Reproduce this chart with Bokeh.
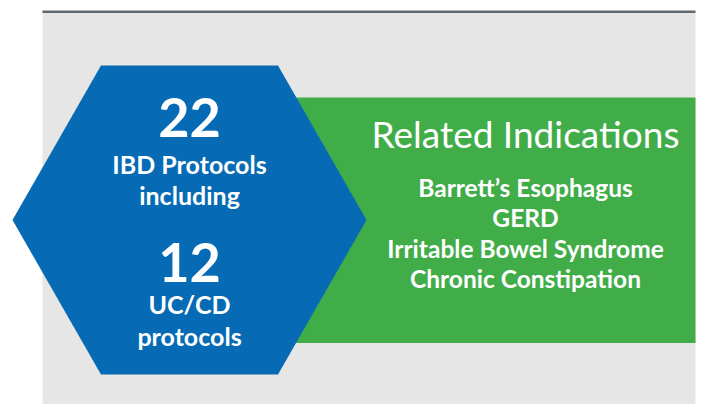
from bokeh.plotting import figure
from bokeh.models import Range1d
from bokeh.core.properties import value
from bokeh.embed import file_html
from bokeh.resources import INLINE

# ---- data ----
total_protocols = 22
total_label = ["IBD Protocols", "including"]
sub_protocols = 12
sub_label = ["UC/CD", "protocols"]
related_title = "Related Indications"
related_items = ["Barrett\u2019s Esophagus", "GERD", "Irritable Bowel Syndrome", "Chronic Constipation"]

# ---- style ----
BLUE = "#066bb4"
GREEN = "#41ad49"
GRAY = "#e5e6e5"
LINE = "#5e6972"
FONT = "Lato"

W, H = 703, 404
p = figure(width=W, height=H, output_backend="svg", toolbar_location=None,
           x_range=Range1d(0, W), y_range=Range1d(H, 0),
           min_border=0, outline_line_color=None, background_fill_color="white",
           border_fill_color="white")
p.axis.visible = False
p.grid.visible = False

# gray panel and top rule
p.quad(left=[42], right=[695], top=[12], bottom=[420], fill_color=GRAY, line_color=None)
p.quad(left=[42], right=[695], top=[10], bottom=[12.5], fill_color=LINE, line_color=None)

# green panel
p.quad(left=[280], right=[695], top=[97], bottom=[342.5], fill_color=GREEN, line_color=None)

# hexagon
cx, cy, hw, hh = 189, 219.5, 177, 154.5
hx = [cx - hw, cx - hw / 2, cx + hw / 2, cx + hw, cx + hw / 2, cx - hw / 2]
hy = [cy, cy - hh, cy - hh, cy, cy + hh, cy + hh]
p.patch(hx, hy, fill_color=BLUE, line_color=None)

K = 0.38  # baseline correction factor

def txt(x, y, s, size, style="bold"):
    p.text(x=[x], y=[y - K * size], text=[s], text_color="white", text_font=value(FONT),
           text_font_size=f"{size}px", text_font_style=style,
           text_align="center", text_baseline="alphabetic")

txt(cx, 138, str(total_protocols), 54)
txt(cx, 173, total_label[0], 25)
txt(cx, 204, total_label[1], 25)
txt(cx, 283, str(sub_protocols), 54)
txt(cx, 313, sub_label[0], 25)
txt(cx, 345, sub_label[1], 25)

txt(525, 147, related_title, 37, "normal")
for i, item in enumerate(related_items):
    txt(525, 196 + i * 30.5, item, 24.5)

open("out.html", "w").write(file_html(p, INLINE))
